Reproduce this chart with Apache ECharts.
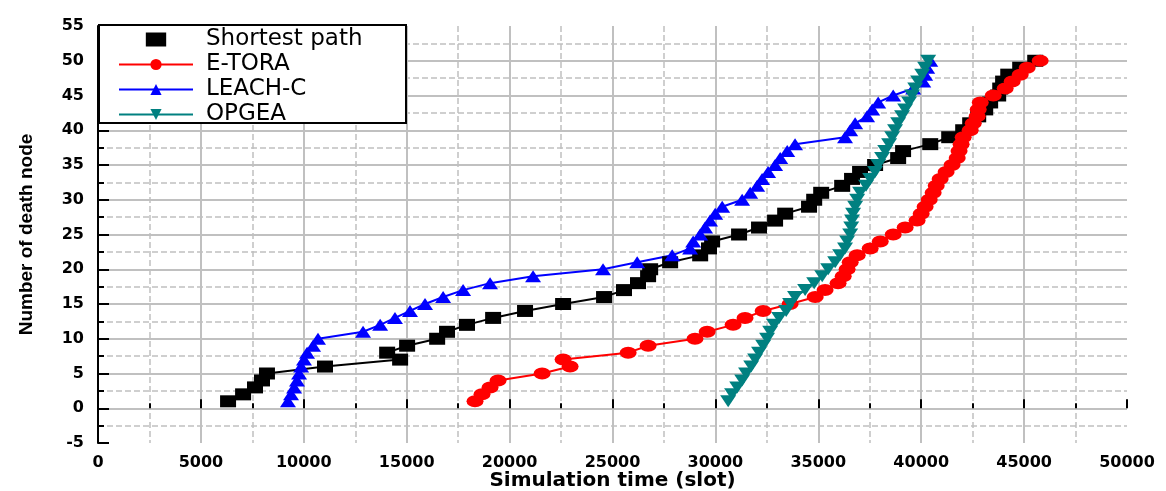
<!DOCTYPE html>
<html>
<head>
<meta charset="utf-8">
<script src="https://cdn.jsdelivr.net/npm/echarts@6/dist/echarts.min.js"></script>
<style>
  html, body { margin: 0; padding: 0; background: #fff; }
  #chart { width: 1166px; height: 491px; }
</style>
</head>
<body>
<div id="chart"></div>
<script>
// 死亡节点数 (y)
const deathNodes = [1, 2, 3, 4, 5, 6, 7, 8, 9, 10, 11, 12, 13, 14, 15, 16, 17, 18, 19, 20,
  21, 22, 23, 24, 25, 26, 27, 28, 29, 30, 31, 32, 33, 34, 35, 36, 37, 38, 39, 40,
  41, 42, 43, 44, 45, 46, 47, 48, 49, 50];

// 仿真时间 (x), 每个节点死亡时刻
const shortestPath = [6320, 7050, 7630, 7970, 8210, 11030, 14680, 14050, 15020, 16480,
  16960, 17930, 19200, 20750, 22600, 24590, 25560, 26240, 26730, 26830,
  27800, 29260, 29690, 29840, 31150, 32120, 32900, 33390, 34550, 34800,
  35140, 36160, 36640, 37030, 37760, 38880, 39120, 40440, 41360, 42040,
  42380, 42770, 43110, 43350, 43740, 43840, 43980, 44230, 44810, 45540];

const eTora = [18320, 18660, 19050, 19440, 21580, 22940, 22600, 25760, 26730, 29010,
  29600, 30860, 31440, 32320, 33630, 34850, 35330, 35960, 36210, 36400,
  36550, 36890, 37520, 38010, 38640, 39220, 39800, 40000, 40190, 40390,
  40580, 40730, 40920, 41210, 41500, 41750, 41840, 41940, 42040, 42380,
  42530, 42720, 42770, 42870, 43500, 44080, 44420, 44810, 45150, 45780];

const leachC = [9230, 9380, 9530, 9670, 9770, 9870, 10010, 10160, 10450, 10690,
  12880, 13710, 14430, 15160, 15890, 16770, 17740, 19050, 21140, 24540,
  26200, 27900, 28770, 28920, 29260, 29500, 29740, 29990, 30330, 31300,
  31690, 32030, 32270, 32560, 32900, 33150, 33490, 33870, 36300, 36550,
  36790, 37370, 37620, 37910, 38640, 39610, 40100, 40190, 40290, 40440];

const opgea = [30620, 30810, 31060, 31300, 31490, 31740, 31930, 32120, 32320, 32510,
  32660, 32850, 33100, 33440, 33630, 33870, 34360, 34800, 35190, 35480,
  35820, 36060, 36300, 36400, 36550, 36600, 36640, 36690, 36790, 36890,
  37030, 37320, 37520, 37760, 37910, 38100, 38250, 38440, 38590, 38730,
  38880, 39070, 39220, 39410, 39560, 39710, 39850, 40050, 40190, 40340];

const pair = (xs) => xs.map((x, i) => [x, deathNodes[i]]);

const gridGray = "#c0c0c0";
const labelFont = "DejaVu Sans";

const chart = echarts.init(document.getElementById("chart"));

chart.setOption({
  backgroundColor: "#fff",
  animation: false,
  grid: { left: 98, right: 39, top: 26, bottom: 48, outerBoundsMode: "none", containLabel: false },
  // 图例外框
  graphic: [
    {
      type: "rect",
      left: 98,
      top: 24,
      z: 3,
      shape: { width: 307, height: 98 },
      style: { fill: "#fff", stroke: "#000", lineWidth: 2 },
    },
  ],
  legend: {
    orient: "vertical",
    left: 118,
    top: 28,
    z: 10,
    padding: 0,
    itemWidth: 74,
    itemHeight: 14,
    itemGap: 2,
    textStyle: {
      fontFamily: labelFont,
      fontSize: 23,
      lineHeight: 22,
      color: "#000",
      padding: [0, 0, 0, 8],
    },
    data: [
      { name: "Shortest path", icon: "path://M0,0 L16,0 L16,11 L0,11 Z" },
      { name: "E-TORA" },
      { name: "LEACH-C" },
      { name: "OPGEA" },
    ],
  },
  xAxis: {
    type: "value",
    min: 0,
    max: 50000,
    interval: 5000,
    name: "Simulation time (slot)",
    nameLocation: "middle",
    nameGap: 27,
    nameMoveOverlap: false,
    nameTextStyle: { fontFamily: labelFont, fontWeight: "bold", fontSize: 20, lineHeight: 22, color: "#000" },
    axisLine: { show: false },
    axisTick: { show: true, inside: true, length: 9, lineStyle: { color: "#000", width: 2 } },
    minorTick: { show: true, splitNumber: 2, length: 5, lineStyle: { color: "#000", width: 2 } },
    axisLabel: {
      fontFamily: labelFont,
      fontWeight: "bold",
      fontSize: 16,
      color: "#000",
      margin: 12,
      formatter: (v) => String(v),
    },
    splitLine: { show: true, showMinLine: false, showMaxLine: false, lineStyle: { color: gridGray, width: 2 } },
    minorSplitLine: { show: true, lineStyle: { color: gridGray, width: 1.5, type: [6, 3] } },
  },
  yAxis: {
    type: "value",
    min: -5,
    max: 55,
    interval: 5,
    name: "Number of death node",
    nameLocation: "middle",
    nameGap: 62,
    nameMoveOverlap: false,
    nameTextStyle: { fontFamily: "Liberation Sans", fontWeight: "bold", fontSize: 19, color: "#000" },
    axisLine: { show: true, lineStyle: { color: "#000", width: 2 } },
    axisTick: { show: true, inside: true, length: 11, lineStyle: { color: "#000", width: 2 } },
    minorTick: { show: true, splitNumber: 2, length: 6, lineStyle: { color: "#000", width: 2 } },
    axisLabel: { fontFamily: labelFont, fontWeight: "bold", fontSize: 16, color: "#000", margin: 14 },
    splitLine: { show: true, showMinLine: false, showMaxLine: false, lineStyle: { color: gridGray, width: 2 } },
    minorSplitLine: { show: true, lineStyle: { color: gridGray, width: 1.5, type: [6, 3] } },
  },
  series: [
    {
      name: "Shortest path",
      type: "line",
      data: pair(shortestPath),
      symbol: "rect",
      symbolSize: [16, 12],
      color: "#000",
      lineStyle: { color: "#000", width: 2 },
      itemStyle: { color: "#000" },
    },
    {
      name: "E-TORA",
      type: "line",
      data: pair(eTora),
      symbol: "circle",
      symbolSize: [17, 12],
      color: "#ff0000",
      lineStyle: { color: "#ff0000", width: 2 },
      itemStyle: { color: "#ff0000" },
    },
    {
      name: "LEACH-C",
      type: "line",
      data: pair(leachC),
      symbol: "triangle",
      symbolSize: [16, 12],
      color: "#0000ff",
      lineStyle: { color: "#0000ff", width: 2 },
      itemStyle: { color: "#0000ff" },
    },
    {
      name: "OPGEA",
      type: "line",
      data: pair(opgea),
      symbol: "triangle",
      symbolRotate: 180,
      symbolSize: [16, 12],
      color: "#008080",
      lineStyle: { color: "#008080", width: 2 },
      itemStyle: { color: "#008080" },
    },
  ],
});
</script>
</body>
</html>
